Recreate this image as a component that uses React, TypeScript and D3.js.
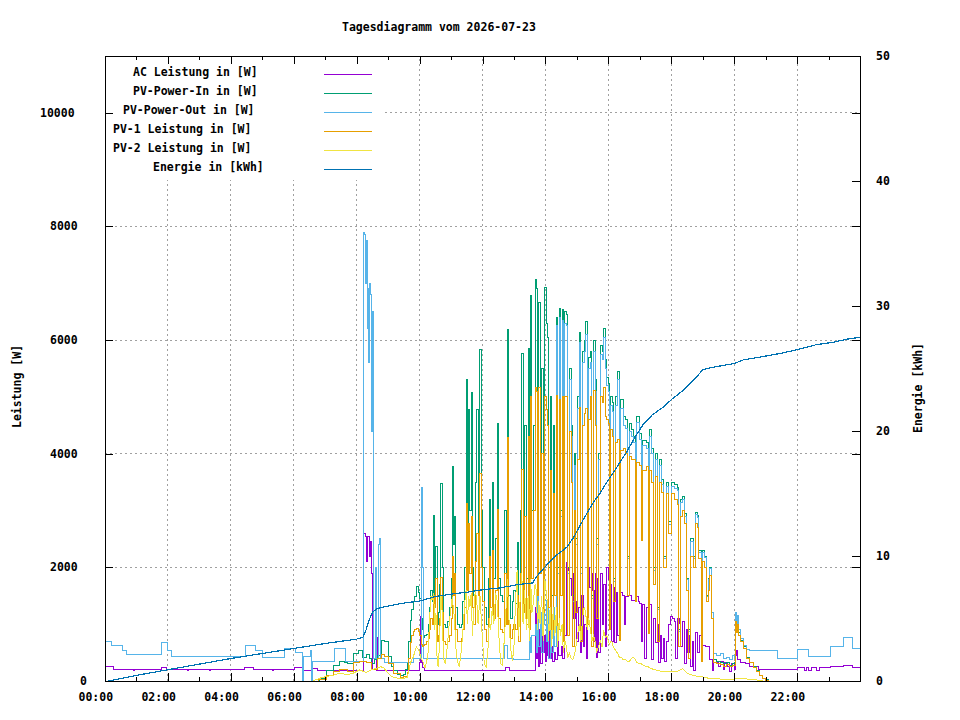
import React, { useEffect, useRef } from "react";
import {
  axisBottom,
  axisTop,
  axisLeft,
  axisRight,
  curveLinear,
  curveStepAfter,
  line,
  range,
  scaleLinear,
  select,
} from "d3";

// layout, same box as the gnuplot png
const WIDTH = 960;
const HEIGHT = 720;
const LEFT = 105;
const RIGHT = 860;
const TOP = 56;
const BOTTOM = 681;
const FONT = "'DejaVu Sans Mono', 'Liberation Mono', monospace";

const TITLE = "Tagesdiagramm vom 2026-07-23";
const seriesNames = [
  "AC Leistung in [W]",
  "PV-Power-In in [W]",
  "PV-Power-Out in [W]",
  "PV-1 Leistung in [W]",
  "PV-2 Leistung in [W]",
  "Energie in [kWh]",
];
const seriesColors = ["#9400d3", "#009e73", "#56b4e9", "#e69f00", "#f0e442", "#0072b2"];
// gnuplot right-justifies the key text with a wider char guess
const legendTextX = [133, 133, 123, 113, 113, 153];

const hourTicks = range(0, 25);
const powerTicks = [0, 2000, 4000, 6000, 8000, 10000];
const energyTicks = [0, 10, 20, 30, 40, 50];

type Pt = [number, number];

// AC Leistung [hour, W]
const acPower: Pt[] = [
  [0, 250], [0.25, 250], [0.27, 210], [0.9, 210], [0.92, 180], [0.95, 210], [1.78, 210], [1.8, 240],
  [1.95, 240], [1.97, 210], [2.6, 210], [2.62, 180], [2.65, 210], [3.3, 210], [3.32, 180], [3.35, 210],
  [4.4, 210], [4.42, 235], [4.7, 235], [4.72, 210], [5.3, 210], [5.32, 180], [5.35, 210], [6.0, 210],
  [6.02, 240], [6.26, 240], [6.28, 0], [6.3, 180], [6.55, 180], [6.57, 220], [6.75, 220], [6.77, 180],
  [8.2, 180], [8.22, 2600], [8.28, 2550], [8.32, 2100], [8.36, 2550], [8.4, 2200], [8.45, 2450], [8.48, 1900],
  [8.5, 200], [8.62, 180], [8.64, 770], [8.67, 180], [9.98, 180], [10.0, 320], [10.03, 1130], [10.06, 320],
  [10.1, 230], [10.15, 180], [12.7, 180], [12.72, 230], [12.85, 230], [12.87, 180], [13.67, 180],
  [13.7, 1300], [13.72, 400], [13.75, 1100], [13.78, 250], [13.82, 900], [13.85, 300], [13.9, 1200], [13.93, 500],
  [13.97, 800], [14.0, 350], [14.03, 1100], [14.06, 450], [14.1, 1000], [14.13, 400], [14.18, 600], [14.22, 350],
  [14.28, 500], [14.32, 380], [14.38, 700], [14.42, 450], [14.5, 600], [14.55, 400], [14.62, 800], [14.66, 2080],
  [14.7, 1950], [14.74, 2000], [14.78, 1800], [14.82, 1500], [14.86, 1900], [14.9, 1100], [14.95, 1400], [15.0, 700],
  [15.05, 1300], [15.1, 500], [15.15, 1500], [15.2, 600], [15.25, 1000], [15.3, 400], [15.35, 2000], [15.4, 1650],
  [15.45, 1900], [15.5, 1600], [15.55, 700], [15.58, 1900], [15.62, 420], [15.66, 1800], [15.7, 500], [15.75, 1900],
  [15.8, 1000], [15.85, 1700], [15.9, 600], [15.95, 1990], [16.0, 1780], [16.05, 1700], [16.1, 700], [16.15, 1650],
  [16.2, 670], [16.25, 1550], [16.3, 800], [16.37, 1550], [16.45, 1500], [16.5, 1000], [16.55, 1480], [16.65, 1500],
  [16.75, 1420], [16.85, 1480], [16.95, 1400], [17.0, 1370], [17.05, 700], [17.1, 1350], [17.15, 400], [17.2, 1300],
  [17.28, 1000], [17.32, 1350], [17.38, 370], [17.42, 1100], [17.5, 670], [17.55, 1000], [17.6, 320], [17.65, 800],
  [17.7, 400], [17.75, 750], [17.8, 350], [17.85, 700], [17.92, 1000], [17.97, 1130], [18.05, 1100], [18.1, 1050],
  [18.15, 400], [18.2, 1100], [18.25, 1020], [18.3, 600], [18.37, 1040], [18.42, 300], [18.47, 900], [18.52, 500],
  [18.58, 800], [18.62, 250], [18.68, 700], [18.72, 190], [18.78, 850], [18.85, 500], [18.9, 800], [18.95, 370],
  [19.0, 630], [19.1, 600], [19.2, 545], [19.22, 370], [19.3, 370], [19.32, 190], [19.35, 370], [19.45, 330],
  [19.5, 250], [19.55, 350], [19.65, 200], [19.7, 330], [19.8, 250], [19.85, 170], [19.9, 300], [20.0, 200],
  [20.03, 450], [20.07, 530], [20.12, 370], [20.2, 320], [20.35, 300], [20.5, 260], [20.75, 250], [20.77, 210],
  [22.0, 210], [22.02, 240], [22.2, 240], [22.22, 190], [22.3, 240], [22.35, 190], [22.45, 240], [22.6, 240],
  [22.62, 190], [22.7, 240], [23.05, 240], [23.07, 250], [23.45, 250], [23.47, 265], [23.75, 265], [23.77, 230],
  [24, 230],
];

// night + morning part of the PV lines
const pvOutEarly: Pt[] = [
  [0, 690], [0.2, 690], [0.22, 630], [0.55, 630], [0.57, 540], [0.65, 540], [0.67, 460], [1.78, 460],
  [1.8, 670], [1.97, 670], [1.99, 545], [2.1, 545], [2.12, 440], [4.45, 440], [4.47, 630], [4.75, 630],
  [4.77, 530], [5.0, 530], [5.02, 420], [5.7, 420], [5.72, 580], [6.05, 580], [6.07, 510], [6.27, 510],
  [6.29, 0], [6.31, 440], [6.5, 440], [6.52, 545], [6.56, 545], [6.58, 0], [6.6, 350], [7.28, 350],
  [7.3, 580], [7.62, 580], [7.64, 350], [8.2, 350], [8.22, 7900], [8.26, 7850], [8.28, 7000], [8.3, 7750],
  [8.33, 6200], [8.36, 6900], [8.39, 5600], [8.42, 7000], [8.45, 6800], [8.47, 4400], [8.5, 6500], [8.52, 600],
  [8.55, 400], [8.6, 2000], [8.62, 400], [8.68, 2400], [8.72, 2500], [8.75, 400], [8.9, 330], [9.55, 330],
];
const pvOutLate: Pt[] = [
  [21.35, 545], [21.37, 400], [22.0, 400], [22.02, 560], [22.35, 560], [22.37, 440], [23.05, 440],
  [23.07, 600], [23.47, 600], [23.49, 770], [23.75, 770], [23.77, 580], [24, 580],
];
const pvInEarly: Pt[] = [
  [6.55, 0], [6.83, 50], [7.05, 190], [7.25, 280], [7.47, 335], [7.6, 320], [7.7, 300], [7.9, 480],
  [8.05, 530], [8.2, 420], [8.3, 470], [8.4, 400], [8.48, 300], [8.58, 380], [8.65, 450], [8.8, 720],
  [8.9, 700], [9.0, 430], [9.1, 250], [9.17, 190], [9.3, 110], [9.38, 100], [9.48, 120], [9.55, 200],
];
const pv1Early: Pt[] = [
  [6.5, 0], [6.8, 30], [7.05, 105], [7.25, 160], [7.47, 195], [7.7, 170], [7.9, 320], [8.1, 340],
  [8.3, 320], [8.48, 200], [8.65, 400], [8.8, 475], [8.9, 430], [9.0, 300], [9.17, 140], [9.38, 70], [9.5, 80],
];
const pv2Early: Pt[] = [
  [6.6, 0], [6.83, 50], [7.05, 80], [7.25, 100], [7.47, 140], [7.7, 110], [7.9, 140], [8.1, 195],
  [8.3, 150], [8.45, 190], [8.65, 230], [8.75, 250], [8.85, 240], [8.95, 170], [9.1, 80], [9.38, 40], [9.5, 50],
];

// daytime samples, shared time axis for the four PV series
const dayHours = [
  9.6, 9.65, 9.7, 9.75, 9.8, 9.85, 9.9, 9.95,
  10.0, 10.05, 10.08, 10.12, 10.17, 10.22, 10.27, 10.32, 10.36, 10.4, 10.45, 10.48, 10.52, 10.56, 10.6, 10.64, 10.68, 10.72, 10.76, 10.82, 10.88, 10.94,
  11.0, 11.04, 11.07, 11.11, 11.15, 11.2, 11.26, 11.32, 11.38, 11.44, 11.48, 11.52, 11.56, 11.6, 11.64, 11.68, 11.72, 11.77, 11.82, 11.86, 11.92, 11.96,
  12.0, 12.06, 12.12, 12.18, 12.22, 12.26, 12.31, 12.36, 12.42, 12.47, 12.52, 12.58, 12.64, 12.7, 12.75, 12.79, 12.83, 12.89, 12.95,
  13.0, 13.05, 13.1, 13.15, 13.2, 13.25, 13.29, 13.34, 13.4, 13.45, 13.49, 13.53, 13.57, 13.62, 13.67, 13.71, 13.75, 13.79, 13.83, 13.88, 13.93, 13.98,
  14.02, 14.06, 14.1, 14.15, 14.2, 14.25, 14.3, 14.35, 14.39, 14.44, 14.48, 14.53, 14.57, 14.62, 14.67, 14.71, 14.76, 14.82, 14.87, 14.92, 14.97,
  15.02, 15.08, 15.13, 15.18, 15.23, 15.28, 15.33, 15.38, 15.43, 15.48, 15.53, 15.58, 15.63, 15.68, 15.75, 15.8, 15.85, 15.9, 15.95,
  16.0, 16.04, 16.08, 16.12, 16.16, 16.22, 16.3, 16.35, 16.4, 16.47, 16.55, 16.6, 16.67, 16.75, 16.8, 16.85, 16.9,
  17.0, 17.05, 17.1, 17.2, 17.27, 17.32, 17.38, 17.43, 17.5, 17.57, 17.62, 17.7, 17.76, 17.85, 17.92,
  18.0, 18.1, 18.2, 18.24, 18.3, 18.37, 18.42, 18.48, 18.55, 18.62, 18.7, 18.77, 18.82, 18.88, 18.95,
  19.0, 19.07, 19.13, 19.18, 19.23, 19.28, 19.33, 19.45, 19.55, 19.65, 19.75, 19.85, 19.95,
  20.0, 20.03, 20.06, 20.1, 20.15, 20.2, 20.3, 20.4, 20.5, 20.6, 20.7, 20.8, 20.9, 21.0, 21.1,
];
const pvInDay = [
  320, 700, 1070, 1250, 1400, 1480, 1670, 1560,
  1450, 1100, 900, 770, 800, 820, 1000, 1300, 1600, 1400, 2920, 1300, 2360, 1000, 1200, 1700, 3480, 2000, 1000, 950, 1050, 1300,
  1800, 3770, 2400, 2900, 1300, 1000, 950, 1000, 1400, 2000, 5300, 2500, 4770, 3000, 5070, 2000, 1500, 3500, 4770, 2500, 5830, 3000,
  2000, 1300, 1000, 1800, 3190, 2000, 3500, 1800, 2500, 4540, 1800, 1500, 1400, 3000, 1500, 6180, 1500, 1100, 1400,
  1600, 1370, 2430, 1200, 3000, 5770, 2000, 4500, 1800, 5860, 1500, 6790, 3000, 4500, 7060, 6900, 2500, 6670, 3000, 5500, 2000, 6920,
  6300, 6050, 2000, 5000, 1500, 4500, 2200, 6390, 2000, 6560, 3000, 6530, 1800, 6500, 6450, 2000, 5500, 4500, 1500, 4000, 2500,
  5000, 6140, 2000, 5800, 6000, 6320, 2500, 5700, 5800, 1500, 6000, 5300, 2500, 4000, 5900, 5800, 6210, 5650, 5350,
  5240, 1600, 5000, 4900, 1800, 5000, 5440, 2500, 4950, 4650, 4600, 2200, 4540, 4420, 4300, 2000, 4650,
  4360, 2600, 4240, 4200, 1200, 4420, 4100, 2000, 4010, 1300, 3890, 3540, 2200, 3500, 2800,
  3500, 3450, 3410, 900, 3200, 3240, 2950, 1800, 900, 2500, 2200, 2970, 2920, 2300, 600,
  2300, 2200, 1500, 1800, 2000, 1200, 370, 350, 330, 300, 330, 280, 300,
  320, 1100, 900, 1050, 850, 720, 600, 420, 330, 250, 180, 100, 50, 20, 0,
];
const pvOutDay = [
  330, 330, 330, 330, 400, 400, 400, 400,
  400, 3400, 2000, 400, 400, 400, 400, 400, 400, 400, 400, 400, 400, 400, 400, 400, 400, 400, 400, 400, 400, 400,
  400, 400, 400, 400, 400, 400, 400, 400, 400, 400, 400, 400, 400, 400, 400, 400, 400, 400, 400, 400, 400, 400,
  400, 400, 400, 400, 400, 400, 400, 400, 400, 400, 400, 400, 400, 630, 630, 400, 400, 400, 400,
  380, 380, 380, 380, 380, 380, 380, 380, 380, 380, 770, 500, 800, 800, 1000, 500, 1480, 600, 1200, 500, 1000, 1420,
  700, 1300, 400, 1100, 500, 1300, 600, 6250, 1900, 6400, 2900, 6350, 1700, 6300, 6250, 1900, 5300, 4300, 1400, 3800, 2400,
  4800, 5950, 1900, 5600, 5800, 6100, 2400, 5500, 5600, 1450, 5800, 5100, 2400, 3900, 5750, 5650, 6050, 5500, 5200,
  5100, 1550, 4850, 4750, 1750, 4850, 5300, 2400, 4800, 4500, 4450, 2150, 4400, 4300, 4200, 1950, 4550,
  4250, 2550, 4150, 4100, 1150, 4300, 4000, 1950, 3900, 1250, 3800, 3450, 2150, 3420, 2750,
  3420, 3380, 3350, 880, 3150, 3200, 2900, 1780, 880, 2450, 2150, 2930, 2880, 2270, 620,
  2270, 2170, 1480, 1780, 1980, 1200, 490, 450, 490, 400, 420, 380, 450,
  400, 1210, 1000, 1150, 900, 750, 620, 550, 545, 545, 545, 545, 545, 545, 545,
];
const pv1Day = [
  150, 400, 670, 800, 880, 900, 920, 880,
  800, 650, 600, 620, 650, 700, 750, 900, 1100, 1000, 1500, 1300, 1800, 700, 800, 1100, 1830, 1200, 700, 650, 700, 800,
  1100, 2200, 1500, 1900, 900, 700, 700, 750, 900, 1300, 3130, 1600, 2780, 1900, 2900, 1300, 1000, 2100, 2600, 1500, 3660, 2000,
  1400, 900, 700, 1100, 2200, 1300, 2300, 1100, 1600, 3010, 1100, 900, 850, 1900, 1000, 4280, 1000, 750, 900,
  1000, 900, 1500, 700, 1900, 3720, 1200, 2900, 1000, 4300, 900, 5000, 1800, 3000, 5170, 5100, 1500, 5170, 1900, 4000, 1200, 5000,
  4770, 4500, 1300, 3700, 900, 3300, 1500, 5030, 900, 4950, 1500, 5000, 700, 5000, 5000, 800, 4400, 3500, 600, 3000, 1200,
  3900, 4820, 700, 4500, 4700, 4800, 1000, 4600, 5000, 600, 5120, 4500, 1100, 3300, 5000, 4900, 5170, 4650, 4600,
  4540, 900, 4420, 4300, 1400, 4190, 4250, 720, 4060, 4100, 4000, 1500, 3950, 3890, 3900, 1400, 3850,
  3800, 2480, 3700, 3770, 840, 3700, 3500, 1700, 3600, 700, 3500, 3310, 2000, 3300, 2600,
  3300, 3200, 3100, 600, 2900, 3000, 2780, 1600, 400, 2200, 2000, 2780, 2700, 2150, 350,
  2100, 2000, 1400, 1600, 1850, 1100, 330, 300, 290, 260, 290, 250, 270,
  280, 1050, 850, 1000, 800, 700, 570, 400, 320, 240, 170, 90, 45, 15, 0,
];
const pv2Day = [
  60, 150, 300, 380, 420, 520, 600, 560,
  500, 400, 370, 320, 230, 320, 500, 1100, 1500, 1420, 1550, 900, 1200, 300, 250, 800, 1500, 1200, 400, 300, 600, 1000,
  1300, 1480, 1300, 1100, 600, 350, 250, 500, 900, 1400, 1600, 1000, 1500, 1300, 1550, 800, 1200, 1600, 1400, 1000, 1500, 1100,
  700, 300, 250, 600, 1100, 900, 1300, 1000, 1550, 1400, 800, 300, 280, 800, 1300, 1800, 1200, 600, 350,
  600, 1400, 1950, 800, 1500, 1900, 1000, 1600, 900, 1500, 700, 1800, 1200, 1400, 1700, 1600, 900, 1400, 1000, 1500, 700, 1800,
  1600, 1400, 700, 1300, 600, 1300, 800, 1300, 600, 1100, 800, 1000, 500, 700, 600, 400, 500, 400, 370, 450, 600,
  800, 1000, 700, 1100, 1300, 1200, 900, 1100, 900, 700, 800, 700, 500, 600, 700, 600, 900, 770, 800,
  700, 650, 700, 680, 600, 550, 480, 420, 420, 380, 370, 350, 350, 400, 420, 380, 330,
  300, 300, 280, 250, 250, 230, 220, 200, 200, 180, 180, 170, 170, 160, 160,
  160, 160, 170, 180, 200, 220, 180, 150, 130, 110, 100, 90, 85, 80, 80,
  70, 60, 55, 50, 50, 45, 40, 40, 35, 35, 30, 30, 30,
  30, 50, 50, 40, 40, 40, 40, 35, 30, 25, 20, 10, 0, 0, 0,
];

// Energie [hour, kWh] on the right axis
const energy: Pt[] = [
  [0.1, 0], [1, 0.45], [2, 0.9], [3, 1.35], [4, 1.8], [5, 2.2], [6, 2.6], [7, 3.0], [8, 3.35], [8.2, 3.5],
  [8.3, 4.1], [8.4, 4.9], [8.5, 5.5], [8.65, 5.8], [9.0, 6.0], [9.4, 6.2], [10.0, 6.4], [10.5, 6.75],
  [11.0, 6.95], [11.5, 7.1], [12.0, 7.3], [12.55, 7.45], [13.1, 7.7], [13.6, 7.85], [13.7, 8.3], [14.05, 9.3],
  [14.37, 10.1], [14.68, 10.7], [14.9, 11.5], [15.2, 12.9], [15.5, 14.2], [15.73, 15.0], [15.95, 15.9],
  [16.27, 17.1], [16.6, 18.4], [16.8, 19.3], [17.1, 20.5], [17.4, 21.3], [17.74, 21.9], [18.0, 22.5],
  [18.4, 23.3], [18.8, 24.3], [19.0, 24.9], [19.33, 25.1], [19.77, 25.3], [20.0, 25.4], [20.3, 25.7],
  [20.8, 25.9], [21.45, 26.2], [22.0, 26.5], [22.6, 26.9], [23.15, 27.1], [23.6, 27.35], [24, 27.5],
];

const withDayHours = (vals: number[]): Pt[] => dayHours.map((h, i) => [h, vals[i]] as Pt);

const App = () => {
  const svgRef = useRef<SVGSVGElement | null>(null);

  useEffect(() => {
    const svg = select(svgRef.current);
    svg.selectAll("*").remove();

    const x = scaleLinear().domain([0, 24]).range([LEFT, RIGHT]);
    const y = scaleLinear().domain([0, 11000]).range([BOTTOM, TOP]);
    const y2 = scaleLinear().domain([0, 50]).range([BOTTOM, TOP]);

    svg.append("rect").attr("width", WIDTH).attr("height", HEIGHT).attr("fill", "#fff");

    // dotted grid
    const grid = svg.append("g").attr("stroke", "#a0a0a0").attr("stroke-dasharray", "2,3").attr("shape-rendering", "crispEdges");
    grid
      .selectAll("line.gx")
      .data(hourTicks.filter((h) => h % 2 === 0 && h > 0 && h < 24))
      .enter()
      .append("line")
      .attr("x1", (h) => x(h))
      .attr("x2", (h) => x(h))
      .attr("y1", BOTTOM)
      .attr("y2", TOP);
    grid
      .selectAll("line.gy")
      .data(powerTicks.filter((v) => v > 0))
      .enter()
      .append("line")
      .attr("y1", (v) => y(v))
      .attr("y2", (v) => y(v))
      .attr("x1", LEFT)
      .attr("x2", RIGHT);

    // opaque key box
    svg.append("rect").attr("x", LEFT + 1).attr("y", TOP + 1).attr("width", 277).attr("height", 123).attr("fill", "#fff");

    // data lines, gnuplot order; the inverter data is logged in steps
    const stepPath = line<Pt>()
      .x((d) => x(d[0]))
      .y((d) => y(d[1]))
      .curve(curveStepAfter);
    const linePath = line<Pt>()
      .x((d) => x(d[0]))
      .y((d) => y(d[1]))
      .curve(curveLinear);
    const energyPath = line<Pt>()
      .x((d) => x(d[0]))
      .y((d) => y2(d[1]));

    const allSeries: Pt[][] = [
      acPower,
      [...pvInEarly, ...withDayHours(pvInDay)],
      [...pvOutEarly, ...withDayHours(pvOutDay), ...pvOutLate],
      [...pv1Early, ...withDayHours(pv1Day)],
      [...pv2Early, ...withDayHours(pv2Day)],
    ];
    allSeries.forEach((s, i) => {
      svg
        .append("path")
        .attr("d", (i === 4 ? linePath : stepPath)(s))
        .attr("fill", "none")
        .attr("stroke", seriesColors[i])
        .attr("stroke-width", 1)
        .attr("shape-rendering", "crispEdges");
    });
    svg
      .append("path")
      .attr("d", energyPath(energy))
      .attr("fill", "none")
      .attr("stroke", seriesColors[5])
      .attr("stroke-width", 1.2)
      .attr("shape-rendering", "crispEdges");

    // border
    svg
      .append("rect")
      .attr("x", LEFT)
      .attr("y", TOP)
      .attr("width", RIGHT - LEFT)
      .attr("height", BOTTOM - TOP)
      .attr("fill", "none")
      .attr("stroke", "#000")
      .attr("shape-rendering", "crispEdges");

    const styleAxis = (g: any) => {
      g.select(".domain").remove();
      g.attr("font-family", FONT).attr("font-size", 11.5).attr("font-weight", "bold");
      g.selectAll("line").attr("stroke", "#000").attr("shape-rendering", "crispEdges");
    };
    const hourLabel = (h: any) => `${String(h).padStart(2, "0")}:00`;

    // x axis: labels every 2 h, short ticks in between, mirrored on top
    const xMajor = svg
      .append("g")
      .attr("transform", `translate(0,${BOTTOM})`)
      .call(axisBottom(x).tickValues(hourTicks.filter((h) => h % 2 === 0 && h < 24)).tickSize(-8).tickFormat(hourLabel));
    styleAxis(xMajor);
    xMajor.selectAll("text").attr("y", 20).attr("dy", null).attr("x", -27).attr("text-anchor", "start");
    const xMinor = svg
      .append("g")
      .attr("transform", `translate(0,${BOTTOM})`)
      .call(axisBottom(x).tickValues(hourTicks.filter((h) => h % 2 === 1)).tickSize(-4).tickFormat(() => ""));
    styleAxis(xMinor);
    const xTopMajor = svg
      .append("g")
      .attr("transform", `translate(0,${TOP})`)
      .call(axisTop(x).tickValues(hourTicks.filter((h) => h % 2 === 0 && h > 0 && h < 24)).tickSize(-8).tickFormat(() => ""));
    styleAxis(xTopMajor);
    const xTopMinor = svg
      .append("g")
      .attr("transform", `translate(0,${TOP})`)
      .call(axisTop(x).tickValues(hourTicks.filter((h) => h % 2 === 1)).tickSize(-4).tickFormat(() => ""));
    styleAxis(xTopMinor);

    // left power axis
    const yAxis = svg
      .append("g")
      .attr("transform", `translate(${LEFT},0)`)
      .call(axisLeft(y).tickValues(powerTicks).tickSize(-8).tickFormat((v: any) => `${v}`));
    styleAxis(yAxis);
    yAxis
      .selectAll("text")
      .attr("text-anchor", "start")
      .attr("x", (v: any) => -15 - 10 * `${v}`.length)
      .attr("dy", "0.3em");
    // mirrored power ticks on the right
    const yMirror = svg
      .append("g")
      .attr("transform", `translate(${RIGHT},0)`)
      .call(axisRight(y).tickValues(powerTicks.filter((v) => v > 0)).tickSize(-8).tickFormat(() => ""));
    styleAxis(yMirror);
    // right energy axis
    const y2Axis = svg
      .append("g")
      .attr("transform", `translate(${RIGHT},0)`)
      .call(axisRight(y2).tickValues(energyTicks).tickSize(-8).tickFormat((v: any) => `${v}`));
    styleAxis(y2Axis);
    y2Axis.selectAll("text").attr("x", 16).attr("dy", "0.3em").attr("text-anchor", "start");

    const txt = svg.append("g").attr("font-family", FONT).attr("font-size", 11.5).attr("font-weight", "bold").attr("fill", "#000");
    txt.append("text").attr("x", 342).attr("y", 31).text(TITLE);
    txt.append("text").attr("transform", "translate(21,428) rotate(-90)").text("Leistung [W]");
    txt.append("text").attr("transform", "translate(922,433) rotate(-90)").text("Energie [kWh]");

    // key
    seriesNames.forEach((name, i) => {
      const cy = 72 + i * 19;
      txt.append("text").attr("x", legendTextX[i]).attr("y", cy + 4).text(name);
      svg
        .append("line")
        .attr("x1", 324)
        .attr("x2", 372)
        .attr("y1", cy + 2.5)
        .attr("y2", cy + 2.5)
        .attr("stroke", seriesColors[i])
        .attr("stroke-width", 1);
    });
  }, []);

  return (
    <svg
      ref={svgRef}
      width={WIDTH}
      height={HEIGHT}
      style={{ position: "absolute", left: 0, top: 0, display: "block" }}
    ></svg>
  );
};

export default App;
